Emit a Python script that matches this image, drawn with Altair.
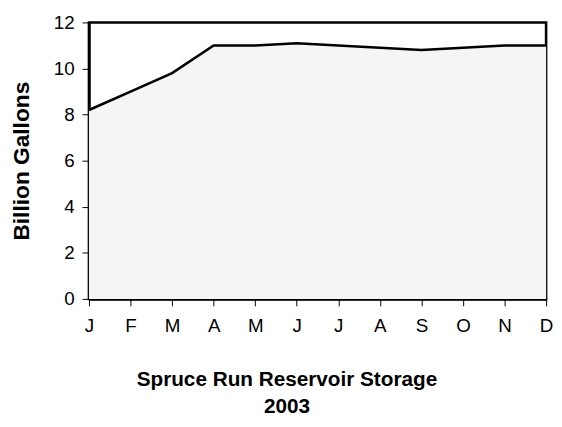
import altair as alt
import pandas as pd

months = ["J", "F", "M", "A", "M2", "J2", "J3", "A2", "S", "O", "N", "D"]
month_labels = ["J", "F", "M", "A", "M", "J", "J", "A", "S", "O", "N", "D"]
storage = [8.2, 9.0, 9.8, 11.0, 11.0, 11.1, 11.0, 10.9, 10.8, 10.9, 11.0, 11.0]
y_ticks = [0, 2, 4, 6, 8, 10, 12]

df = pd.DataFrame({"month": months, "storage": storage})

label_map = "{" + ",".join(f"'{k}':'{v}'" for k, v in zip(months, month_labels)) + "}"
FONT = "Liberation Sans"

x = alt.X(
    "month:O",
    sort=months,
    scale=alt.Scale(type="point", padding=0),
    axis=alt.Axis(
        title=["Spruce Run Reservoir Storage", "2003"],
        titleFont=FONT,
        titleFontSize=21,
        titleFontWeight="bold",
        titleColor="black",
        titleX=200,
        titleY=71,
        titleAlign="center",
        titleBaseline="top",
        titleLineHeight=27,
        labelExpr=f"{label_map}[datum.value]",
        labelAngle=0,
        labelFont=FONT,
        labelFontSize=19,
        labelColor="black",
        labelPadding=11,
        tickSize=7,
        tickColor="black",
        tickWidth=1,
        domainColor="black",
        domainWidth=3,
        grid=False,
    ),
)

y = alt.Y(
    "storage:Q",
    scale=alt.Scale(domain=[0, 12], nice=False),
    axis=alt.Axis(
        values=y_ticks,
        title="Billion Gallons",
        titleFont=FONT,
        titleFontSize=23,
        titleFontWeight="bold",
        titleColor="black",
        titleX=-68,
        titleY=140,
        titleAlign="center",
        titleBaseline="middle",
        titleAngle=270,
        labelFont=FONT,
        labelFontSize=19,
        labelColor="black",
        labelPadding=8,
        tickSize=7,
        tickColor="black",
        tickWidth=1,
        domainColor="black",
        domainWidth=2.5,
        grid=False,
    ),
)

area = alt.Chart(df).mark_area(color="#f5f5f5", opacity=1).encode(x=x, y=y)
line = alt.Chart(df).mark_line(color="black", strokeWidth=2.6).encode(x=x, y=y)

chart = (
    alt.layer(area, line)
    .properties(
        width=463,
        height=280,
        autosize=alt.AutoSizeParams(type="none"),
        padding={"left": 82, "top": 12, "right": 8, "bottom": 118},
        background="white",
    )
    .configure_view(stroke="black", strokeWidth=2.6)
)

chart.save("out.html", embed_options={"renderer": "svg", "actions": False})
